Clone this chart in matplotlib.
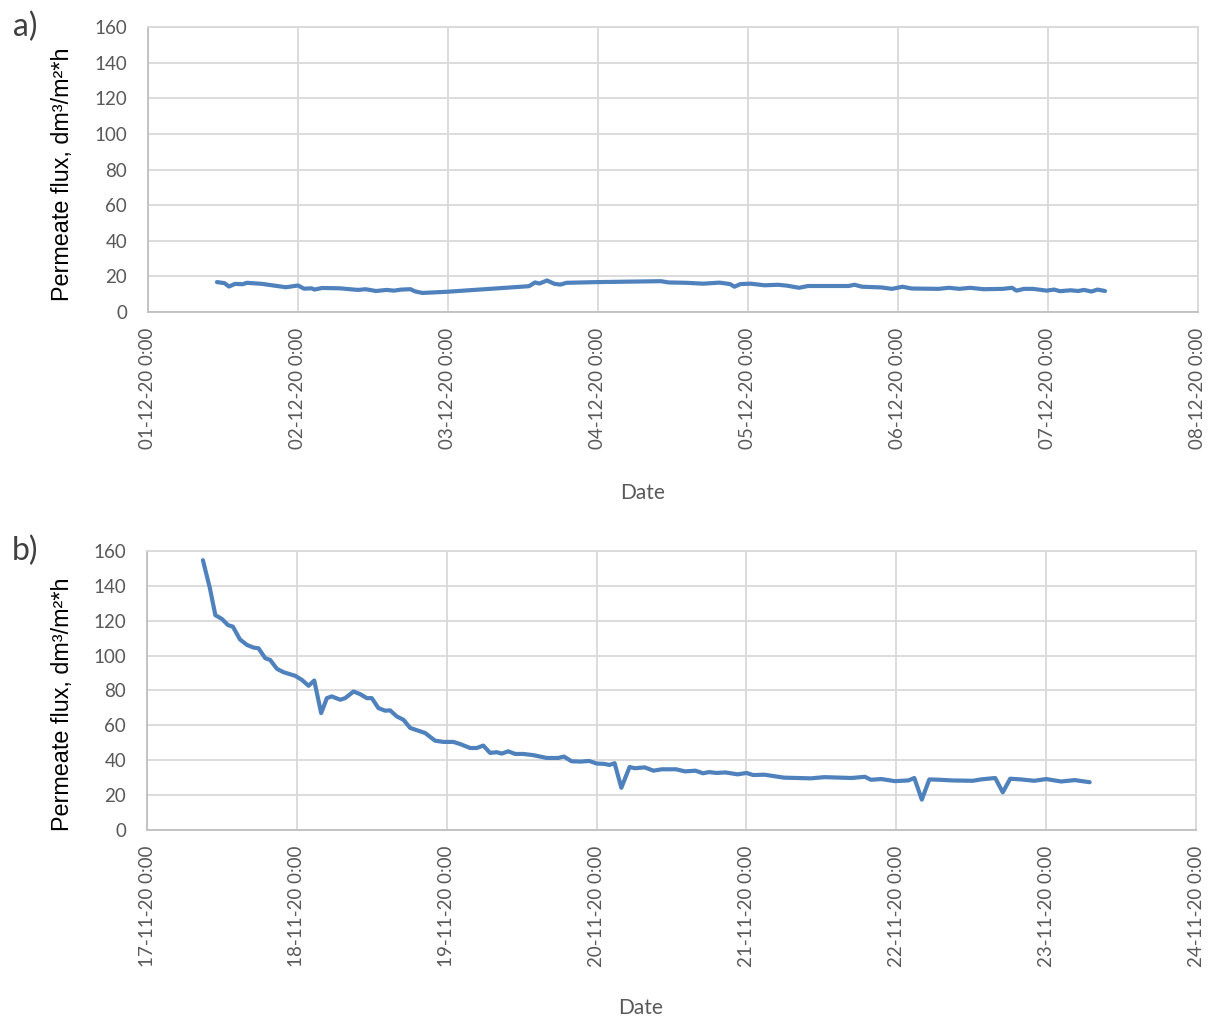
import matplotlib
matplotlib.use("Agg")
import matplotlib.pyplot as plt
import matplotlib.dates as mdates
from matplotlib.ticker import FuncFormatter
import pandas as pd

# a) run started 01-12-20, time in days from start
a_start = "2020-12-01"
a_days = [0.46, 0.51, 0.54, 0.58, 0.63, 0.66, 0.76, 0.92, 1.00, 1.04, 1.09, 1.11,
          1.16, 1.28, 1.40, 1.45, 1.52, 1.59, 1.64, 1.69, 1.75, 1.78, 1.83, 2.00,
          2.54, 2.58, 2.61, 2.66, 2.71, 2.75, 2.79, 3.00, 3.42, 3.47, 3.59, 3.70,
          3.81, 3.88, 3.91, 3.95, 4.02, 4.11, 4.20, 4.26, 4.34, 4.40, 4.53, 4.67,
          4.71, 4.76, 4.89, 4.96, 5.03, 5.09, 5.27, 5.34, 5.41, 5.48, 5.57, 5.70,
          5.76, 5.79, 5.84, 5.90, 5.99, 6.04, 6.08, 6.15, 6.20, 6.24, 6.29, 6.33,
          6.38]
a_flux = [16.8, 16.2, 14.3, 15.8, 15.6, 16.4, 15.8, 13.9, 14.9, 13.1, 13.3, 12.6,
          13.5, 13.3, 12.4, 12.8, 11.8, 12.4, 12.0, 12.6, 12.8, 11.6, 10.7, 11.4,
          14.5, 16.6, 16.0, 17.7, 15.8, 15.4, 16.4, 16.8, 17.3, 16.6, 16.4, 15.9,
          16.5, 15.7, 14.2, 15.7, 15.9, 15.0, 15.3, 14.8, 13.6, 14.6, 14.6, 14.6,
          15.3, 14.2, 13.8, 13.0, 14.2, 13.2, 13.0, 13.6, 13.0, 13.6, 12.8, 13.0,
          13.6, 12.0, 13.0, 13.0, 12.0, 12.6, 11.7, 12.2, 11.8, 12.4, 11.5, 12.6,
          11.8]

# b) run started 17-11-20
b_start = "2020-11-17"
b_days = [0.373, 0.42, 0.456, 0.50, 0.54, 0.573, 0.62, 0.667, 0.711, 0.744, 0.789,
          0.822, 0.867, 0.91, 0.989, 1.033, 1.078, 1.116, 1.162, 1.20, 1.233, 1.289,
          1.322, 1.378, 1.422, 1.467, 1.50, 1.544, 1.589, 1.622, 1.667, 1.711, 1.756,
          1.856, 1.922, 1.978, 2.044, 2.089, 2.156, 2.20, 2.244, 2.289, 2.333, 2.367,
          2.411, 2.456, 2.511, 2.578, 2.667, 2.744, 2.782, 2.833, 2.894, 2.95, 3.00,
          3.05, 3.086, 3.12, 3.165, 3.22, 3.255, 3.32, 3.38, 3.435, 3.53, 3.59, 3.66,
          3.71, 3.75, 3.80, 3.86, 3.94, 4.00, 4.045, 4.12, 4.25, 4.43, 4.52, 4.70,
          4.79, 4.83, 4.90, 4.99, 5.08, 5.12, 5.17, 5.22, 5.285, 5.375, 5.51, 5.565,
          5.66, 5.71, 5.76, 5.83, 5.92, 6.00, 6.10, 6.19, 6.29]
b_flux = [154.7, 138.5, 123.2, 121.0, 117.5, 116.6, 109.3, 106.1, 104.6, 104.2, 98.5,
          97.5, 92.4, 90.5, 88.4, 86.1, 82.7, 85.7, 67.0, 75.6, 76.6, 74.7,
          75.6, 79.4, 77.9, 75.6, 75.6, 69.9, 68.4, 68.6, 65.1, 63.2, 58.5,
          55.6, 51.2, 50.5, 50.5, 49.3, 47.0, 47.0, 48.4, 44.2, 44.6, 43.8,
          45.1, 43.6, 43.6, 42.9, 41.3, 41.3, 42.1, 39.4, 39.2, 39.6, 38.1,
          37.9, 37.3, 38.3, 24.2, 36.1, 35.4, 35.9, 34.0, 34.8, 34.8, 33.6, 34.0,
          32.5, 33.2, 32.7, 33.0, 31.9, 32.7, 31.5, 31.7, 30.0, 29.6, 30.3, 29.8,
          30.5, 28.8, 29.2, 28.0, 28.4, 29.8, 17.4, 29.0, 28.8, 28.4, 28.2, 29.0,
          29.8, 21.6, 29.4, 29.0, 28.2, 29.2, 27.8, 28.6, 27.4]

line_col = "#4f81bd"
grid_col = "#d9d9d9"
text_col = "#595959"
tick_font = "Lato"


def fmt_date(x, pos):
    d = mdates.num2date(x)
    return f"{d:%d-%m-%y} {d.hour}:{d:%M}"


def draw(ax, start, days, flux, label, date_xy, ylab_xy):
    t0 = pd.Timestamp(start)
    t = t0 + pd.to_timedelta(days, unit="D")
    ax.plot(t, flux, color=line_col, lw=3.0, solid_joinstyle="round",
            solid_capstyle="round")
    ax.set_xlim(t0, t0 + pd.Timedelta(days=7))
    ax.set_ylim(0, 160)
    ax.set_yticks(range(0, 161, 20))
    ax.xaxis.set_major_locator(mdates.DayLocator())
    ax.xaxis.set_major_formatter(FuncFormatter(fmt_date))
    ax.grid(True, color=grid_col, lw=1.3)
    ax.set_axisbelow(True)
    for s in ["top", "right"]:
        ax.spines[s].set_color(grid_col)
        ax.spines[s].set_linewidth(1.3)
    for s in ["left", "bottom"]:
        ax.spines[s].set_color("#bfbfbf")
        ax.spines[s].set_linewidth(1.3)
    ax.tick_params(length=0, colors=text_col)
    ax.tick_params(axis="x", pad=11)
    ax.tick_params(axis="y", pad=15)
    for lb in ax.get_xticklabels():
        lb.set_rotation(90)
        lb.set_fontfamily(tick_font)
        lb.set_fontsize(13.5)
    for lb in ax.get_yticklabels():
        lb.set_fontfamily(tick_font)
        lb.set_fontsize(13.5)
    ax.set_xlabel("Date", fontfamily=tick_font, fontsize=15, color=text_col)
    ax.xaxis.set_label_coords(*date_xy)
    ax.set_ylabel("Permeate flux, dm³/m²*h", fontfamily="Liberation Sans",
                  fontsize=16.8, color="black")
    ax.yaxis.set_label_coords(*ylab_xy)
    ax.text(-0.129, 1.0, label, transform=ax.transAxes, fontfamily=tick_font,
            fontsize=23, color="#404040", ha="left", va="center")


fig = plt.figure(figsize=(12.09, 10.16), dpi=100)
ax1 = fig.add_axes([0.1224, 0.6929, 0.8685, 0.2805])
ax2 = fig.add_axes([0.1216, 0.1831, 0.8677, 0.2746])
draw(ax1, a_start, a_days, a_flux, "a)", (0.4714, -0.60), (-0.0705, 0.482))
draw(ax2, b_start, b_days, b_flux, "b)", (0.47, -0.603), (-0.0696, 0.45))
fig.savefig("out.png", dpi=100)
